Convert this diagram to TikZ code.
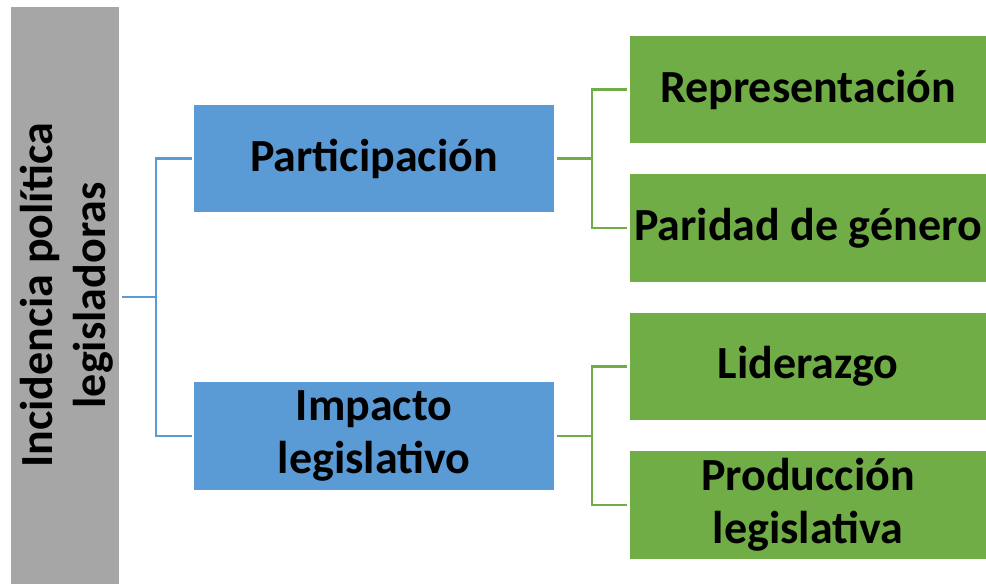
\documentclass[tikz,border=0pt]{standalone}
\usepackage{fontspec}
\setmainfont{Carlito}
\tikzset{
  box/.style={draw=none,inner sep=0pt,outer sep=0pt},
  graybox/.style={box,fill=grayfill},
  bluebox/.style={box,fill=bluefill},
  greenbox/.style={box,fill=greenfill},
  txt/.style={inner sep=0pt,align=center,font=\bfseries\fontsize{46}{53}\selectfont},
  blueline/.style={draw=bluefill,line width=2.6pt},
  greenline/.style={draw=greenfill,line width=2.6pt},
}
\definecolor{grayfill}{HTML}{A6A6A6}
\definecolor{bluefill}{HTML}{5B9BD5}
\definecolor{greenfill}{HTML}{70AD47}
\begin{document}
\begin{tikzpicture}[x=1pt,y=-1pt]
\useasboundingbox (0,0) rectangle (986,584);
% boxes
\node[graybox,minimum width=108pt,minimum height=577pt] (root) at (65,295.5) {};
\node[bluebox,minimum width=360pt,minimum height=107pt] (p) at (374,158.5) {};
\node[bluebox,minimum width=360pt,minimum height=108pt] (i) at (374,436) {};
\node[greenbox,minimum width=356pt,minimum height=107pt] (r) at (808,89.5) {};
\node[greenbox,minimum width=356pt,minimum height=108pt] (g) at (808,228) {};
\node[greenbox,minimum width=356pt,minimum height=107pt] (l) at (808,366.5) {};
\node[greenbox,minimum width=356pt,minimum height=108pt] (pl) at (808,505) {};
% labels
\node[txt,rotate=90] (roott) at ([xshift=2pt]root.center) {Incidencia política\\legisladoras};
\node[txt] (pt) at (p.center) {Participación};
\node[txt] (it) at (i.center) {Impacto\\legislativo};
\node[txt] (rt) at (r.center) {Representación};
\node[txt] (gt) at (g.center) {Paridad de género};
\node[txt] (lt) at (l.center) {Liderazgo};
\node[txt] (plt) at (pl.center) {Producción\\legislativa};
% connectors
\coordinate (rj) at ([xshift=37pt,yshift=-1.5pt]root.east);
\draw[blueline] ([xshift=3pt,yshift=-1.5pt]root.east) -- (rj);
\draw[blueline] (rj) |- ([xshift=-2pt]p.west);
\draw[blueline] (rj) |- ([xshift=-2pt]i.west);
\coordinate (pj) at ([xshift=38pt]p.east);
\draw[greenline] ([xshift=3pt]p.east) -- (pj);
\draw[greenline] (pj) |- ([xshift=-3pt]r.west);
\draw[greenline] (pj) |- ([xshift=-3pt]g.west);
\coordinate (ij) at ([xshift=38pt]i.east);
\draw[greenline] ([xshift=3pt]i.east) -- (ij);
\draw[greenline] (ij) |- ([xshift=-3pt]l.west);
\draw[greenline] (ij) |- ([xshift=-3pt]pl.west);
\end{tikzpicture}
\end{document}
